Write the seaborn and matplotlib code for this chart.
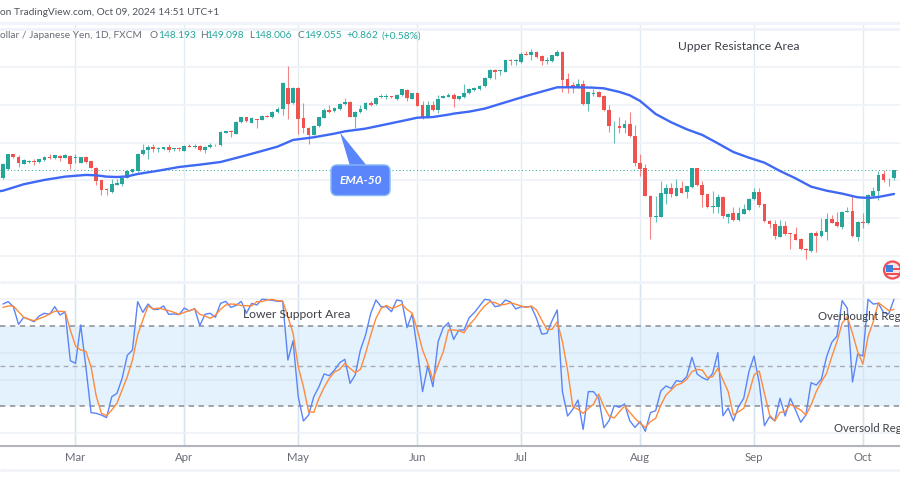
import numpy as np
import pandas as pd
import seaborn as sns
import matplotlib.pyplot as plt
from matplotlib.patches import FancyBboxPatch, Polygon, Circle, Rectangle

# USD/JPY daily candles (9 Feb to 9 Oct 2024)
opens = [148.21, 149.20, 150.76, 150.51, 149.77, 149.94, 150.09, 149.91, 150.16, 150.51,
         150.37, 150.62, 150.40, 150.54, 150.40, 149.87, 150.51, 150.02, 149.34, 148.00,
         147.05, 146.76, 147.54, 147.61, 148.28, 148.88, 148.95, 150.76, 151.22, 151.57,
         151.36, 151.36, 151.53, 151.29, 151.43, 151.15, 151.68, 151.53, 151.64, 151.18,
         151.50, 151.78, 151.71, 153.05, 153.23, 152.95, 154.18, 154.68, 154.11, 154.47,
         154.43, 154.86, 154.68, 155.25, 155.56, 157.82, 156.16, 157.79, 154.57, 153.58,
         152.84, 153.76, 154.64, 155.42, 155.35, 155.56, 156.06, 156.31, 154.75, 155.25,
         155.53, 156.20, 156.06, 156.80, 156.87, 156.91, 156.59, 157.05, 157.58, 156.66,
         157.26, 155.95, 154.68, 155.99, 155.46, 156.76, 156.87, 157.01, 156.59, 156.84,
         157.22, 157.58, 157.68, 157.97, 158.81, 159.73, 159.59, 159.52, 160.76, 160.62,
         160.55, 161.43, 161.32, 161.60, 161.18, 160.69, 160.62, 161.22, 161.64, 158.71,
         158.07, 157.86, 158.25, 156.09, 157.19, 157.40, 156.98, 155.46, 153.73, 153.80,
         153.58, 153.94, 152.74, 149.87, 149.27, 146.37, 144.08, 144.15, 146.59, 147.15,
         146.37, 147.15, 146.73, 147.29, 149.27, 147.51, 146.52, 145.21, 145.17, 146.23,
         144.08, 144.50, 143.79, 144.47, 144.85, 146.02, 146.76, 145.46, 143.69, 143.37,
         142.03, 143.12, 142.38, 142.31, 141.78, 140.75, 140.54, 142.38, 142.10, 142.52,
         143.90, 143.58, 143.09, 144.68, 144.78, 141.99, 143.58, 143.44, 146.34, 146.83,
         148.71, 148.11, 148.193]
highs = [149.87, 150.83, 150.83, 150.65, 150.23, 150.16, 150.23, 150.30, 150.58, 150.76,
         150.72, 150.69, 150.79, 150.65, 150.76, 150.51, 150.58, 150.09, 149.41, 148.07,
         147.15, 148.14, 148.14, 148.35, 149.06, 149.24, 150.90, 151.82, 151.78, 151.82,
         151.53, 151.57, 151.89, 151.46, 151.50, 151.75, 151.89, 151.89, 151.71, 151.64,
         151.96, 151.85, 153.19, 153.26, 153.30, 154.29, 154.75, 154.75, 154.71, 154.54,
         154.89, 154.93, 155.35, 155.74, 158.46, 160.16, 157.86, 157.86, 156.23, 153.65,
         153.87, 154.75, 155.63, 155.95, 155.74, 156.20, 156.76, 156.38, 155.35, 155.99,
         156.27, 156.41, 156.83, 157.12, 157.19, 156.98, 157.15, 157.72, 157.65, 157.29,
         157.33, 156.41, 156.45, 156.45, 157.05, 157.01, 157.22, 157.29, 156.98, 158.21,
         157.75, 157.86, 158.07, 158.92, 159.80, 159.80, 159.73, 160.79, 160.83, 160.86,
         161.64, 161.71, 161.89, 161.67, 161.25, 161.11, 161.32, 161.81, 161.71, 159.42,
         158.39, 158.78, 158.64, 157.40, 157.65, 157.47, 157.05, 155.95, 154.25, 154.68,
         154.40, 155.21, 153.83, 150.79, 149.73, 146.44, 146.34, 147.93, 147.61, 147.75,
         148.14, 147.93, 147.43, 149.34, 149.34, 147.93, 146.59, 146.87, 146.52, 146.37,
         144.50, 145.14, 145.14, 145.49, 146.13, 147.15, 147.15, 145.53, 143.76, 143.79,
         143.79, 143.72, 142.45, 143.02, 141.85, 140.82, 142.49, 142.66, 143.97, 144.50,
         144.32, 144.68, 144.75, 145.14, 146.34, 143.65, 144.50, 146.52, 147.26, 148.99,
         149.10, 148.25, 149.098]
lows = [148.14, 149.13, 150.37, 149.45, 149.70, 149.87, 149.66, 149.84, 150.02, 150.30,
        150.30, 150.02, 150.33, 149.17, 149.80, 149.80, 149.87, 149.27, 147.51, 146.44,
        146.48, 146.62, 147.47, 147.40, 148.21, 148.81, 148.88, 150.69, 150.30, 151.04,
        151.04, 151.22, 151.04, 151.15, 151.15, 151.08, 151.50, 151.46, 151.11, 150.86,
        151.43, 151.64, 151.64, 152.98, 152.63, 152.88, 154.11, 154.18, 154.04, 153.58,
        154.36, 154.68, 154.61, 155.18, 154.93, 154.54, 156.09, 152.95, 152.98, 151.85,
        152.77, 153.69, 154.57, 155.17, 155.28, 155.49, 155.99, 154.68, 153.58, 155.18,
        155.46, 155.88, 155.99, 156.73, 156.66, 156.73, 156.52, 156.98, 156.41, 156.59,
        155.85, 154.50, 154.61, 155.35, 155.10, 156.69, 156.80, 155.74, 156.52, 156.77,
        157.15, 157.51, 157.61, 157.90, 158.74, 158.71, 159.20, 159.45, 160.23, 160.27,
        160.48, 161.25, 160.76, 160.97, 160.27, 160.30, 160.55, 161.15, 157.40, 157.29,
        157.22, 157.79, 155.99, 155.32, 156.94, 156.80, 155.35, 153.16, 151.92, 153.05,
        153.05, 152.63, 149.52, 148.49, 146.30, 141.74, 143.62, 144.08, 145.46, 146.27,
        146.30, 146.62, 146.09, 147.22, 147.40, 145.21, 145.10, 144.50, 144.50, 143.97,
        143.44, 143.72, 143.72, 144.40, 144.78, 145.95, 145.14, 143.58, 142.91, 141.78,
        141.96, 142.20, 140.68, 141.64, 140.61, 139.62, 140.37, 140.44, 142.03, 141.67,
        143.44, 143.05, 142.80, 144.61, 141.99, 141.60, 142.95, 143.37, 146.27, 145.91,
        147.86, 147.40, 148.006]
closes = [149.73, 150.76, 150.44, 149.80, 150.16, 150.09, 149.94, 150.26, 150.44, 150.40,
          150.65, 150.37, 150.65, 149.77, 150.44, 150.44, 149.94, 149.34, 147.93, 146.98,
          146.94, 147.61, 147.75, 148.28, 148.99, 149.17, 150.83, 151.22, 151.53, 151.29,
          151.46, 151.50, 151.22, 151.39, 151.29, 151.68, 151.57, 151.68, 151.18, 151.57,
          151.78, 151.71, 153.12, 153.19, 153.12, 154.22, 154.68, 154.25, 154.64, 154.40,
          154.82, 154.75, 155.28, 155.60, 158.28, 156.13, 157.79, 154.54, 153.51, 152.84,
          153.80, 154.68, 155.42, 155.28, 155.67, 156.13, 156.34, 154.75, 155.28, 155.56,
          156.20, 155.95, 156.76, 156.91, 156.98, 156.80, 157.08, 157.65, 156.69, 157.22,
          155.92, 154.57, 156.02, 155.42, 156.66, 156.94, 157.05, 156.62, 156.91, 157.29,
          157.68, 157.79, 158.00, 158.85, 159.73, 159.45, 159.66, 160.72, 160.62, 160.79,
          161.36, 161.32, 161.60, 161.04, 160.65, 160.76, 161.25, 161.64, 158.64, 157.75,
          157.86, 158.21, 156.06, 157.33, 157.26, 156.87, 155.42, 153.76, 153.80, 153.58,
          153.94, 152.70, 149.80, 149.20, 146.37, 144.08, 144.18, 146.62, 147.15, 146.52,
          147.15, 146.69, 147.36, 149.27, 147.47, 146.48, 145.17, 145.28, 146.20, 144.22,
          144.43, 143.79, 144.50, 144.96, 146.06, 146.80, 145.38, 143.65, 143.37, 142.13,
          143.12, 142.27, 142.34, 141.71, 140.68, 140.65, 142.42, 142.13, 142.59, 143.90,
          143.51, 143.12, 144.68, 144.75, 142.06, 143.58, 143.51, 146.44, 146.87, 148.60,
          148.04, 148.18, 149.055]

# EMA-50, sampled every few bars
ema_bars = [-1, 0, 4, 8, 12, 16, 18, 20, 22, 24, 26, 30, 34, 38, 42, 46, 50, 53, 56, 58, 60,
            64, 66, 70, 74, 78, 80, 83, 86, 87, 90, 93, 97, 101, 104, 107, 111, 114, 116,
            119, 121, 123, 126, 129, 132, 135, 138, 141, 144, 147, 150, 153, 156, 159,
            162, 165, 167, 169, 172]
ema_50 = [146.82, 146.90, 147.58, 148.04, 148.39, 148.57, 148.53, 148.39, 148.35, 148.42, 148.67,
          149.02, 149.41, 149.66, 149.94, 150.51, 151.11, 151.57, 152.28, 152.42, 152.56,
          152.95, 153.19, 153.48, 153.94, 154.40, 154.64, 154.71, 154.96, 155.07, 155.28,
          155.60, 156.27, 156.94, 157.40, 157.86, 157.86, 157.82, 157.75, 157.37, 157.01,
          156.41, 155.03, 154.15, 153.41, 152.81, 151.92, 151.00, 150.40, 149.87, 148.99,
          148.21, 147.33, 146.90, 146.59, 146.20, 146.13, 146.23, 146.55]

# Stochastic %K and %D in the lower pane
stoch_k = [96.4, 98.2, 94.4, 81.2, 86.5, 85.0, 83.2, 87.5, 89.5, 88.7, 94.4, 88.2, 90.5, 54.1,
           52.1, 80.8, 49.6, 15.3, 14.8, 13.5, 11.6, 27.2, 29.7, 40.9, 58.1, 62.1, 98.2, 90.2,
           96.4, 92.4, 92.4, 95.0, 88.7, 89.0, 88.5, 93.4, 91.2, 93.0, 80.3, 88.7, 89.5, 86.5,
           96.9, 98.4, 93.9, 95.4, 98.4, 89.5, 96.9, 95.7, 100.0, 99.7, 99.2, 98.4, 98.4, 54.6,
           69.0, 27.2, 9.1, 13.5, 27.2, 34.7, 44.2, 42.9, 47.1, 52.6, 55.1, 37.2, 43.4, 62.1,
           73.3, 89.5, 99.4, 94.4, 94.4, 90.7, 99.4, 98.7, 78.8, 89.0, 62.1, 31.0, 50.1, 34.7,
           68.3, 78.8, 82.5, 70.0, 77.0, 77.0, 86.2, 90.0, 95.0, 99.9, 99.4, 94.4, 95.2, 99.4,
           97.9, 92.7, 94.4, 94.4, 94.4, 85.7, 74.0, 74.5, 84.0, 92.0, 31.0, 12.8, 17.8, 24.7,
           2.8, 31.0, 31.0, 26.0, 4.1, 9.3, 20.5, 19.3, 21.8, 9.3, 4.3, 8.6, 1.4, 15.3, 16.8,
           31.5, 35.2, 33.4, 39.2, 38.4, 42.2, 56.6, 44.2, 41.4, 39.7, 44.7, 60.1, 13.0, 18.8,
           9.1, 19.8, 26.0, 45.9, 57.6, 37.2, 5.6, 12.3, 9.1, 26.0, 12.8, 26.0, 17.3, 8.1, 13.5,
           37.7, 35.9, 40.4, 57.1, 67.8, 72.5, 98.9, 93.2, 38.2, 59.1, 57.6, 99.9, 96.4, 96.9,
           90.0, 89.0, 99.9]
stoch_d = [93.9, 94.9, 94.9, 90.7, 86.5, 85.0, 84.0, 85.5, 87.0, 89.0, 91.0, 91.0, 90.7, 77.0,
           65.1, 62.1, 61.1, 49.6, 27.7, 14.8, 13.0, 17.3, 22.3, 32.2, 42.2, 54.6, 73.3, 84.5,
           95.0, 92.7, 93.4, 92.4, 91.5, 90.2, 88.7, 90.2, 91.5, 92.7, 88.7, 87.5, 85.7, 88.2,
           92.4, 95.7, 96.4, 96.2, 95.2, 95.2, 95.0, 98.2, 98.2, 99.4, 99.9, 98.9, 98.7, 87.0,
           74.5, 49.6, 34.7, 16.0, 15.5, 26.0, 34.2, 40.9, 45.7, 47.6, 52.1, 48.4, 45.2, 47.6,
           59.6, 73.3, 85.7, 93.2, 95.4, 93.2, 94.4, 96.2, 92.4, 89.5, 77.0, 62.1, 52.1, 39.7,
           50.9, 60.8, 77.0, 77.0, 76.5, 75.0, 80.8, 85.0, 90.5, 95.0, 98.2, 97.4, 95.7, 96.2,
           97.4, 96.2, 95.0, 93.9, 95.0, 92.0, 84.5, 77.5, 77.5, 83.2, 68.3, 47.1, 19.8, 17.8,
           14.8, 18.5, 21.5, 29.2, 19.8, 12.8, 11.3, 16.0, 20.3, 15.5, 11.1, 7.3, 4.3, 8.6, 11.1,
           21.0, 28.5, 32.2, 35.9, 37.2, 40.2, 45.9, 47.6, 47.1, 41.4, 42.2, 48.4, 39.7, 31.0,
           13.5, 16.0, 18.5, 29.7, 43.4, 46.4, 29.7, 13.5, 9.1, 15.5, 16.0, 21.5, 19.3, 17.3, 13.5,
           21.0, 31.0, 38.4, 44.7, 57.1, 68.3, 82.0, 87.0, 74.5, 60.8, 51.6, 72.0, 83.2, 97.4,
           94.4, 91.5, 92.4]

month_labels = ["Mar", "Apr", "May", "Jun", "Jul", "Aug", "Sep", "Oct"]
month_bars = [14, 35, 57, 80, 100, 123, 145, 166]
price_grid = [140, 144, 148, 152, 156, 160, 164]
stoch_grid = [0, 40, 60, 100]
last_close = 149.055

df = pd.DataFrame({"bar": range(len(opens)), "open": opens, "high": highs, "low": lows,
                   "close": closes, "k": stoch_k, "d": stoch_d})
ema_df = pd.DataFrame({"bar": ema_bars, "ema": ema_50})

GREEN = "#26a69a"
RED = "#ef5350"
GRID = "#eef2f8"
VGRID = "#e3ebf3"

sns.set_style("white")
plt.rcParams['font.family'] = ['Lato', 'DejaVu Sans']

fig = plt.figure(figsize=(9, 5), dpi=100)
ax = fig.add_axes([0, 1 - 282 / 500, 1, 258 / 500])
ax2 = fig.add_axes([0, 1 - 445 / 500, 1, 161 / 500])
for a in (ax, ax2):
    a.set_xlim(-0.575, 173.17)
    a.set_xticks([])
    a.set_yticks([])
    sns.despine(ax=a, left=True, bottom=True)
    for m in month_bars:
        a.axvline(m, color=VGRID, lw=1, zorder=0)
ax.set_ylim(137.22, 164.57)
ax2.set_ylim(-8.85, 111.36)

for p in price_grid:
    ax.axhline(p, color=GRID, lw=1.2, zorder=0)
ax.axhline(last_close, color=GREEN, lw=0.7, ls=(0, (1, 2.6)), zorder=1)

# candles
colors = [GREEN if c >= o else RED for o, c in zip(df["open"], df["close"])]
ax.vlines(df["bar"], df["low"], df["high"], colors=colors, lw=0.8, alpha=0.7, zorder=2)
body_low = df[["open", "close"]].min(axis=1)
body_h = (df["close"] - df["open"]).abs().clip(lower=0.06)
ax.bar(df["bar"], body_h, bottom=body_low, width=0.72, color=colors, lw=0, zorder=3)

sns.lineplot(data=ema_df, x="bar", y="ema", ax=ax, color="#3f68f5", lw=1.7, zorder=4)
ax.set_xlabel("")
ax.set_ylabel("")

# lower pane
ax2.axhspan(20, 80, color="#e3f2fd", lw=0, zorder=0)
for m in month_bars:
    ax2.axvline(m, color="#d5e4f0", lw=1, zorder=1)
for g in stoch_grid:
    ax2.axhline(g, color="#d8e8f5" if 20 < g < 80 else GRID, lw=1.2, zorder=1)
ax2.axhline(80, color="#8a8c94", lw=1.1, ls=(0, (3.5, 3)), zorder=2)
ax2.axhline(50, color="#a8abb2", lw=1, ls=(0, (3.5, 3)), zorder=2)
ax2.axhline(20, color="#8a8c94", lw=1.1, ls=(0, (3.5, 3)), zorder=2)
sns.lineplot(data=df, x="bar", y="k", ax=ax2, color="#5b85f7", lw=1.0, zorder=3)
sns.lineplot(data=df, x="bar", y="d", ax=ax2, color="#ff8a3c", lw=1.0, zorder=4)
ax2.set_xlabel("")
ax2.set_ylabel("")

# overlay in pixels for the chrome and the drawn annotations
over = fig.add_axes([0, 0, 1, 1], zorder=10)
over.set_xlim(0, 900)
over.set_ylim(500, 0)
over.axis("off")
over.patch.set_alpha(0)

for y, col, w in [(23, "#f0f3fa", 2.2), (30, GRID, 1.2), (282, "#f0f3fa", 2), (470, "#f0f3fa", 1.8)]:
    over.plot([0, 900], [y, y], color=col, lw=w, solid_capstyle="butt")
over.plot([0, 900], [445.5, 445.5], color="#b2b5be", lw=1.5, solid_capstyle="butt")

for name, bar in zip(month_labels, month_bars):
    px = 2.98 + 5.18 * bar
    over.text(px, 457.5, name, ha="center", va="center", fontsize=8.2, color="#6a6d78")

over.text(0, 12.5, "on TradingView.com, Oct 09, 2024 14:51 UTC+1", fontsize=7.3, color="#50535e", va="center")
over.text(0, 36, "ollar / Japanese Yen, 1D, FXCM", fontsize=7.3, color="#6a6d78", va="center")
legend_bits = [(150, "O", "#6a6d78"), (158, "148.193", GREEN), (200, "H", "#6a6d78"), (206, "149.098", GREEN),
               (249, "L", "#6a6d78"), (254, "148.006", GREEN), (297, "C", "#6a6d78"), (304, "149.055", GREEN),
               (346, "+0.862", GREEN), (381, "(+0.58%)", GREEN)]
for px, txt, col in legend_bits:
    over.text(px, 36, txt, fontsize=7.3, color=col, va="center")

over.text(678, 46, "Upper Resistance Area", fontsize=8.7, color="#3c3f46", va="center")
over.text(243, 314, "Lower Support Area", fontsize=8.7, color="#3c3f46", va="center")
over.text(818, 317, "Overbought Reg", fontsize=8.2, color="#3c3f46", va="center")
over.text(834, 429, "Oversold Reg", fontsize=8.2, color="#3c3f46", va="center")

# EMA-50 callout
over.add_patch(Polygon([(340, 132.5), (350, 166), (367, 166)], closed=True, fc="#5a85fb", ec="none", zorder=5))
over.add_patch(FancyBboxPatch((335, 169), 51, 22.5, boxstyle="round,pad=4,rounding_size=6",
                              fc="#5a85fb", ec="#86b8f5", lw=1, zorder=5))
over.text(360.5, 180, "EMA-50", ha="center", va="center", fontsize=8.6, color="white",
          style="italic", weight="bold", zorder=6)

# flag badge at the right edge
over.add_patch(Circle((892.5, 270), 8.5, fc="#fbe4e6", ec="#ee4f55", lw=1.6, zorder=5))
over.add_patch(Rectangle((886, 265), 7, 6.5, fc="#3f7fe0", ec="none", zorder=6))
over.add_patch(Rectangle((893, 268), 8, 2.2, fc="#ee4f55", ec="none", zorder=6))
over.add_patch(Rectangle((886, 272.5), 14, 2, fc="#ee4f55", ec="none", zorder=6))

plt.savefig("out.png", dpi=100)
